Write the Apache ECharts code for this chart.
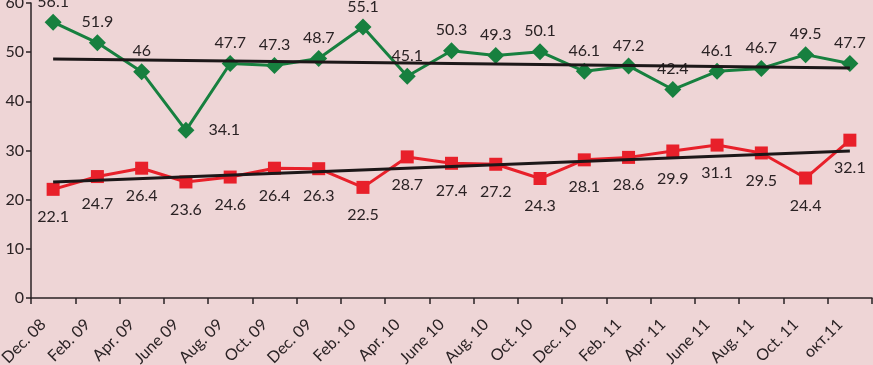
<!DOCTYPE html>
<html>
<head>
<meta charset="utf-8">
<script src="https://cdn.jsdelivr.net/npm/echarts@6/dist/echarts.min.js"></script>
<style>
  html, body { margin: 0; padding: 0; background: #eed5d6; }
  #chart { width: 873px; height: 365px; }
</style>
</head>
<body>
<div id="chart"></div>
<script>
const categories = ['Dec. 08', 'Feb. 09', 'Apr. 09', 'June 09', 'Aug. 09', 'Oct. 09', 'Dec. 09',
  'Feb. 10', 'Apr. 10', 'June 10', 'Aug. 10', 'Oct. 10', 'Dec. 10', 'Feb. 11', 'Apr. 11',
  'June 11', 'Aug. 11', 'Oct. 11', 'окт.11'];
const greenValues = [56.1, 51.9, 46, 34.1, 47.7, 47.3, 48.7, 55.1, 45.1, 50.3, 49.3, 50.1,
  46.1, 47.2, 42.4, 46.1, 46.7, 49.5, 47.7];
const redValues = [22.1, 24.7, 26.4, 23.6, 24.6, 26.4, 26.3, 22.5, 28.7, 27.4, 27.2, 24.3,
  28.1, 28.6, 29.9, 31.1, 29.5, 24.4, 32.1];
// trend line end points (first and last category)
const greenTrend = [48.6, 46.8];
const redTrend = [23.6, 29.9];

const font = 'Lato, "Open Sans", sans-serif';
const textColor = '#2a2224';

function trendData(ends) {
  return categories.map((c, i) => i === 0 ? ends[0] : (i === categories.length - 1 ? ends[1] : null));
}

let chart = echarts.init(document.getElementById('chart'));
chart.setOption({
  backgroundColor: '#eed5d6',
  animation: false,
  grid: { left: 31, right: 1, top: 3, bottom: 67, outerBoundsMode: 'none', containLabel: false },
  xAxis: {
    type: 'category',
    data: categories,
    boundaryGap: true,
    axisLine: { lineStyle: { color: '#2a2224', width: 1.5 } },
    axisTick: { show: true, length: 6, inside: false, lineStyle: { color: '#2a2224', width: 1.5 } },
    axisLabel: {
      rotate: 45, fontFamily: font, fontSize: 16, color: textColor,
      margin: 14, interval: 0, padding: [0, 14, 0, 0]
    }
  },
  yAxis: {
    type: 'value',
    min: 0,
    max: 60,
    interval: 10,
    splitLine: { show: false },
    axisLine: { show: true, lineStyle: { color: '#2a2224', width: 1.5 } },
    axisTick: { show: true, length: 5, lineStyle: { color: '#2a2224', width: 1.5 } },
    axisLabel: { fontFamily: font, fontSize: 16, color: textColor, margin: 7 }
  },
  series: [
    {
      name: 'trend green',
      type: 'line',
      data: trendData(greenTrend),
      connectNulls: true,
      symbol: 'none',
      lineStyle: { color: '#1c1718', width: 3 },
      z: 3
    },
    {
      name: 'trend red',
      type: 'line',
      data: trendData(redTrend),
      connectNulls: true,
      symbol: 'none',
      lineStyle: { color: '#1c1718', width: 3 },
      z: 3
    },
    {
      name: 'green',
      type: 'line',
      data: greenValues.map((v, i) => i === 3
        ? { value: v, label: { position: 'right', distance: 14 } }
        : v),
      symbol: 'diamond',
      symbolSize: 17,
      itemStyle: { color: '#17803f' },
      lineStyle: { color: '#17803f', width: 3 },
      label: { show: true, position: 'top', distance: 4, fontFamily: font, fontSize: 16, color: textColor },
      z: 2
    },
    {
      name: 'red',
      type: 'line',
      data: redValues,
      symbol: 'rect',
      symbolSize: 13,
      itemStyle: { color: '#e8202a' },
      lineStyle: { color: '#e8202a', width: 3 },
      label: { show: true, position: 'bottom', distance: 13, fontFamily: font, fontSize: 16, color: textColor },
      z: 2
    }
  ]
});
</script>
</body>
</html>
